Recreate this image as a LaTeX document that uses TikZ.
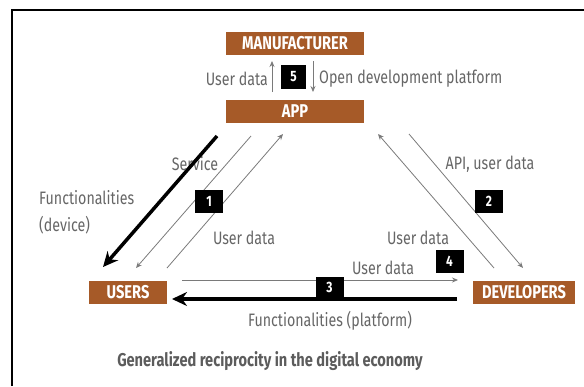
\documentclass[tikz,border=0pt]{standalone}
\usepackage{fontspec}
\setmainfont[FakeStretch=0.79]{Fira Sans}
\usetikzlibrary{arrows.meta}
\definecolor{rust}{HTML}{A65A28}
\definecolor{ink}{HTML}{666666}
\definecolor{wire}{HTML}{7A7A7A}
\tikzset{
  actor/.style={
    rectangle,
    fill=rust,
    text=white,
    font=\bfseries\fontsize{18.5}{18.5}\selectfont,
    inner sep=0,
    minimum height=23pt,
  },
  numbox/.style={
    rectangle,
    fill=black,
    text=white,
    font=\bfseries\fontsize{15}{15}\selectfont,
    inner sep=0,
    minimum width=28pt,
    minimum height=23pt,
  },
  lbl/.style={
    text=ink,
    inner sep=0,
    font=\fontsize{18}{27}\selectfont,
  },
  flow/.style={
    draw=wire,
    line width=0.8pt,
    -{Stealth[length=6pt,width=5pt]},
  },
  bigflow/.style={
    line width=3.5pt,
    -{Stealth[length=15pt,width=14pt]},
  }
}

\begin{document}
\begin{tikzpicture}[x=1pt,y=-1pt]
  \useasboundingbox (0,0) rectangle (584,386);
  \draw[line width=2pt] (12,386) -- (12,10) -- (584,10); % frame

  % the four parties
  \node[actor,minimum width=138pt] at (295,43.5) (mfr) {MANUFACTURER};
  \node[actor,minimum width=138pt] at (295,111.5) (app) {APP};
  \node[actor,minimum width=78pt] at (128,292.5) (users) {USERS};
  \node[actor,minimum width=102pt] at (524,292.5) (devs) {DEVELOPERS};

  % ends of the exchanges
  \coordinate (up0) at (272,92);   \coordinate (up1) at (272,61);
  \coordinate (dn0) at (313,61);   \coordinate (dn1) at (313,92);
  \coordinate (fd0) at (217,136);  \coordinate (fd1) at (103,267);
  \coordinate (sv0) at (251,136);  \coordinate (sv1) at (136,268);
  \coordinate (ud0) at (167,268);  \coordinate (ud1) at (283,134);
  \coordinate (api0) at (409,134); \coordinate (api1) at (523,268);
  \coordinate (dv0) at (494,268);  \coordinate (dv1) at (378,134);
  \coordinate (hz0) at (182,280);  \coordinate (hz1) at (458,280);
  \coordinate (fp0) at (457,299);  \coordinate (fp1) at (172,299);

  % labels
  \node[lbl,anchor=east] at (268,79) (l5a) {User data};
  \node[lbl,anchor=west] at (319,79) (l5b) {Open development platform};
  \node[lbl] at (195,164) (l1a) {Service};
  \node[lbl,align=left,anchor=west] at (39,212) (l1b) {Functionalities\\(device)};
  \node[lbl] at (244,238) (l1c) {User data};
  \node[lbl] at (490,164) (l2) {API, user data};
  \node[lbl] at (418,238) (l4) {User data};
  \node[lbl] at (383,268) (l3a) {User data};
  \node[lbl] at (330,321) (l3b) {Functionalities (platform)};

  \draw[flow] (up0) -- (up1);
  \draw[flow] (dn0) -- (dn1);
  \draw[bigflow] (fd0) -- (fd1);
  \draw[flow] (sv0) -- (sv1);
  \draw[flow] (ud0) -- (ud1);
  \draw[flow] (api0) -- (api1);
  \draw[flow] (dv0) -- (dv1);
  \draw[flow] (hz0) -- (hz1);
  \draw[bigflow] (fp0) -- (fp1);

  % numbered exchanges
  \node[numbox,minimum width=25pt,minimum height=24pt] at (293.5,77) (n5) {5};
  \node[numbox] at (209,201) (n1) {1};
  \node[numbox] at (489,201) (n2) {2};
  \node[numbox] at (449.5,261.5) (n4) {4};
  \node[numbox,minimum height=21pt] at (329.5,287.5) (n3) {3};

  \node[text=ink!90!black,inner sep=0,font=\bfseries\fontsize{18.5}{18.5}\selectfont]
    at (270,361) (caption) {Generalized reciprocity in the digital economy};
\end{tikzpicture}
\end{document}
